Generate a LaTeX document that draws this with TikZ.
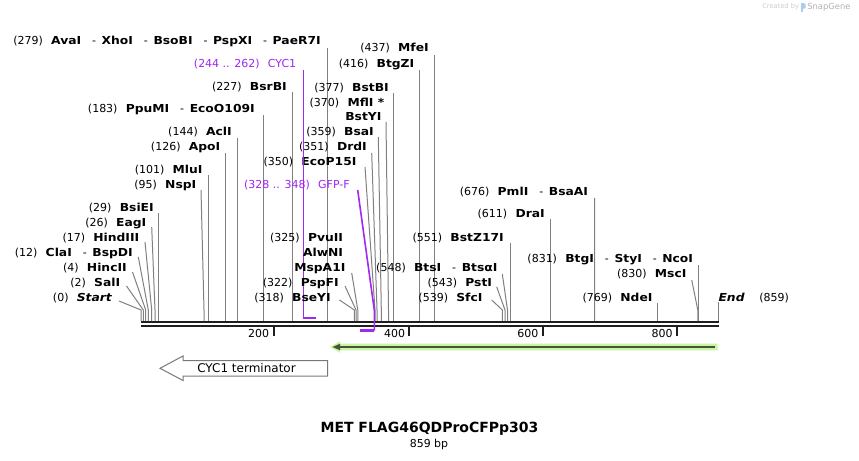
\documentclass[tikz,border=0pt]{standalone}
\usepackage{fontspec}
\setmainfont{DejaVu Sans}[BoldFeatures={FakeStretch=1.12},BoldItalicFeatures={FakeStretch=1.12}]
\newfontface\titlebf{DejaVu Sans Bold}
\usetikzlibrary{calc}
\definecolor{cutgray}{RGB}{128,128,128}
\definecolor{featpurple}{RGB}{160,40,240}
\definecolor{bbone}{RGB}{30,30,30}
\definecolor{glowgreen}{RGB}{200,245,160}
\definecolor{darkolive}{RGB}{72,82,62}
\definecolor{boxgray}{RGB}{120,120,120}
\definecolor{logoblue}{RGB}{170,205,235}
\newcommand\lp[1]{(#1)\hspace{6.2pt}}
\newcommand\en[1]{\textbf{#1}}
\newcommand\dashsep{\hspace{8.2pt}-\hspace{4.2pt}}
\begin{document}
\begin{tikzpicture}[x=0.75pt,y=-0.75pt,
  lab/.style={font=\fontsize{8.25}{10}\selectfont, inner sep=0pt, anchor=east, text height=6pt, text depth=0pt},
  featlab/.style={lab, text=featpurple},
  cut/.style={draw=cutgray, line width=0.75pt},
  feat/.style={draw=featpurple, line width=1.2pt},
  featmark/.style={draw=featpurple, line width=1.8pt},
  tick/.style={draw=bbone, line width=1.5pt},
  ticklab/.style={font=\fontsize{8.25}{10}\selectfont, inner sep=0pt, anchor=east, text height=6pt, text depth=0pt},
]
\useasboundingbox (0,0) rectangle (859,460);
\fill[white] (0,0) rectangle (859,460);

% ---------- backbone ----------
\coordinate (bbL) at (141,322);
\coordinate (bbR) at (718.5,322);
\coordinate (bbL2) at (141,326);
\coordinate (bbR2) at (718.5,326);
\draw[bbone, line width=1.7pt] (bbL) -- (bbR);
\draw[bbone, line width=1.7pt] (bbL2) -- (bbR2);

% ticks
\coordinate (t200a) at (273.5,327); \coordinate (t200b) at (273.5,336);
\coordinate (t400a) at (409.3,327); \coordinate (t400b) at (409.3,336);
\coordinate (t600a) at (542.7,327); \coordinate (t600b) at (542.7,336);
\coordinate (t800a) at (677,327);   \coordinate (t800b) at (677,336);
\draw[tick] (t200a) -- (t200b);
\draw[tick] (t400a) -- (t400b);
\draw[tick] (t600a) -- (t600b);
\draw[tick] (t800a) -- (t800b);
\node[ticklab] (n200) at (269.5,333) {200};
\node[ticklab] (n400) at (405.3,333) {400};
\node[ticklab] (n600) at (538.7,333) {600};
\node[ticklab] (n800) at (673,333) {800};

% ---------- top labels with vertical lines ----------
\node[lab] (lAva) at (321,41) {\lp{279}\en{AvaI}\dashsep\en{XhoI}\dashsep\en{BsoBI}\dashsep\en{PspXI}\dashsep\en{PaeR7I}};
\coordinate (sAva) at (327.5,321);
\draw[cut] ($(lAva.east)+(6.5,7)$) -- (sAva);

\node[lab] (lMfe) at (429,48) {\lp{437}\en{MfeI}};
\coordinate (sMfe) at (434,321);
\draw[cut] ($(lMfe.east)+(5,7)$) -- (sMfe);

\node[lab] (lBtgZ) at (414.5,64) {\lp{416}\en{BtgZI}};
\coordinate (sBtgZ) at (419.5,321);
\draw[cut] ($(lBtgZ.east)+(5,6)$) -- (sBtgZ);

\node[lab] (lBsrB) at (287,86) {\lp{227}\en{BsrBI}};
\coordinate (sBsrB) at (292.5,321);
\draw[cut] ($(lBsrB.east)+(5.5,6)$) -- (sBsrB);

\node[lab] (lBstB) at (389,87) {\lp{377}\en{BstBI}};
\coordinate (sBstB) at (393.5,321);
\draw[cut] ($(lBstB.east)+(4.5,6)$) -- (sBstB);

\node[lab] (lMfl) at (384.5,102) {\lp{370}\en{MflI *}};
\node[lab] (lBstY) at (381.7,116) {\en{BstYI}};
\coordinate (kBstY) at (388.5,310);
\coordinate (sBstY) at (388.5,321);
\draw[cut] ($(lBstY.east)+(4.3,6)$) -- (kBstY) -- (sBstY);

\node[lab] (lPpu) at (255,108) {\lp{183}\en{PpuMI}\dashsep\en{EcoO109I}};
\coordinate (sPpu) at (263.3,321);
\draw[cut] ($(lPpu.east)+(8.3,7)$) -- (sPpu);

\node[lab] (lBsa) at (374,131) {\lp{359}\en{BsaI}};
\coordinate (kBsa) at (381.3,310);
\coordinate (sBsa) at (381.3,321);
\draw[cut] ($(lBsa.east)+(4.3,6)$) -- (kBsa) -- (sBsa);

\node[lab] (lAcl) at (232,131) {\lp{144}\en{AclI}};
\coordinate (sAcl) at (237.3,321);
\draw[cut] ($(lAcl.east)+(5.3,7)$) -- (sAcl);

\node[lab] (lDrd) at (367,146) {\lp{351}\en{DrdI}};
\coordinate (kDrd) at (377,310);
\coordinate (sDrd) at (377,321);
\draw[cut] ($(lDrd.east)+(4.7,7)$) -- (kDrd) -- (sDrd);

\node[lab] (lApo) at (220.5,146) {\lp{126}\en{ApoI}};
\coordinate (sApo) at (225.7,321);
\draw[cut] ($(lApo.east)+(5.2,7)$) -- (sApo);

\node[lab] (lEco) at (356.7,161) {\lp{350}\en{EcoP15I}};
\coordinate (kEco) at (375,310);
\coordinate (sEco) at (375,321);
\draw[cut] ($(lEco.east)+(8.3,6)$) -- (kEco) -- (sEco);

\node[lab] (lMlu) at (202.7,169) {\lp{101}\en{MluI}};
\coordinate (sMlu) at (208.3,321);
\draw[cut] ($(lMlu.east)+(5.6,6)$) -- (sMlu);

\node[lab] (lNsp) at (196.5,184) {\lp{95}\en{NspI}};
\coordinate (kNsp) at (204,310);
\coordinate (sNsp) at (204,321);
\draw[cut] ($(lNsp.east)+(4.5,6)$) -- (kNsp) -- (sNsp);

\node[lab] (lPml) at (588.3,191) {\lp{676}\en{PmlI}\dashsep\en{BsaAI}};
\coordinate (sPml) at (594.5,321);
\draw[cut] ($(lPml.east)+(6.2,7)$) -- (sPml);

\node[lab] (lDra) at (545,213) {\lp{611}\en{DraI}};
\coordinate (sDra) at (550.5,321);
\draw[cut] ($(lDra.east)+(5.5,6)$) -- (sDra);

% ---------- features (purple) ----------
\node[featlab] (lCYC) at (296.5,64) {(244 .. 262)\hspace{6.2pt}CYC1};
\coordinate (kCYC) at (303.3,318);
\coordinate (eCYC) at (316,318);
\draw[feat] ($(lCYC.east)+(6.8,6)$) -- (kCYC);
\draw[featmark] (kCYC) -- (eCYC);

% ---------- left cluster ----------
\node[lab] (lBsiE) at (154,207) {\lp{29}\en{BsiEI}};
\coordinate (sBsiE) at (158.3,321);
\draw[cut] ($(lBsiE.east)+(4.3,6)$) -- (sBsiE);

\node[lab] (lEag) at (146.5,222) {\lp{26}\en{EagI}};
\coordinate (kEag) at (155,310); \coordinate (sEag) at (155,321);
\draw[cut] ($(lEag.east)+(5.2,5)$) -- (kEag) -- (sEag);

\node[lab] (lHind) at (139.5,237) {\lp{17}\en{HindIII}};
\coordinate (kHind) at (151.7,310); \coordinate (sHind) at (151.7,321);
\draw[cut] ($(lHind.east)+(5.5,5)$) -- (kHind) -- (sHind);

\node[lab] (lCla) at (133,252) {\lp{12}\en{ClaI}\dashsep\en{BspDI}};
\coordinate (kCla) at (148.3,310); \coordinate (sCla) at (148.3,321);
\draw[cut] ($(lCla.east)+(5.3,5)$) -- (kCla) -- (sCla);

\node[lab] (lHinc) at (127,267) {\lp{4}\en{HincII}};
\coordinate (kHinc) at (145.7,310); \coordinate (sHinc) at (145.7,321);
\draw[cut] ($(lHinc.east)+(5.5,5)$) -- (kHinc) -- (sHinc);

\node[lab] (lSal) at (120.5,282) {\lp{2}\en{SalI}};
\coordinate (kSal) at (143.3,310); \coordinate (sSal) at (143.3,321);
\draw[cut] ($(lSal.east)+(6,4)$) -- (kSal) -- (sSal);

\node[lab] (lStart) at (112.5,297) {\lp{0}\textbf{\textit{Start}}};
\coordinate (kStart) at (141,310); \coordinate (sStart) at (141,321);
\draw[cut] ($(lStart.east)+(6.5,4)$) -- (kStart) -- (sStart);

% ---------- 318-325 cluster ----------
\node[lab] (lPvu) at (343.3,237) {\lp{325}\en{PvuII}};
\node[lab] (lAlw) at (343.3,252) {\en{AlwNI}};
\node[lab] (lMsp) at (345.7,267) {\en{MspA1I}};
\coordinate (kMsp) at (357.8,310); \coordinate (sMsp) at (357.8,321);
\draw[cut] ($(lMsp.east)+(6,6)$) -- (kMsp) -- (sMsp);

\node[lab] (lPspF) at (339,282) {\lp{322}\en{PspFI}};
\coordinate (kPspF) at (356,310); \coordinate (sPspF) at (356,321);
\draw[cut] ($(lPspF.east)+(6,4)$) -- (kPspF) -- (sPspF);

\node[lab] (lBseY) at (331,297) {\lp{318}\en{BseYI}};
\coordinate (kBseY) at (354.3,310); \coordinate (sBseY) at (354.3,321);
\draw[cut] ($(lBseY.east)+(8.5,3)$) -- (kBseY) -- (sBseY);

% ---------- 539-551 cluster ----------
\node[lab] (lBstZ) at (504,237) {\lp{551}\en{BstZ17I}};
\coordinate (sBstZ) at (510,321);
\draw[cut] ($(lBstZ.east)+(6,6)$) -- (sBstZ);

\node[lab] (lBts) at (497.7,267) {\lp{548}\en{BtsI}\dashsep\en{BtsαI}};
\coordinate (kBts) at (507.5,310); \coordinate (sBts) at (507.5,321);
\draw[cut] ($(lBts.east)+(4.6,7)$) -- (kBts) -- (sBts);

\node[lab] (lPst) at (492.3,282) {\lp{543}\en{PstI}};
\coordinate (kPst) at (505,310); \coordinate (sPst) at (505,321);
\draw[cut] ($(lPst.east)+(4.4,5)$) -- (kPst) -- (sPst);

\node[lab] (lSfc) at (482.7,297) {\lp{539}\en{SfcI}};
\coordinate (kSfc) at (502.3,310); \coordinate (sSfc) at (502.3,321);
\draw[cut] ($(lSfc.east)+(9,3)$) -- (kSfc) -- (sSfc);

% ---------- right side ----------
\node[lab] (lBtg) at (693.3,258) {\lp{831}\en{BtgI}\dashsep\en{StyI}\dashsep\en{NcoI}};
\coordinate (sNco) at (698.3,321);
\draw[cut] ($(lBtg.east)+(5,7)$) -- (sNco);

\node[lab] (lMsc) at (686.7,273) {\lp{830}\en{MscI}};
\coordinate (kMsc) at (697.8,310); \coordinate (sMsc) at (697.8,321);
\draw[cut] ($(lMsc.east)+(5,7)$) -- (kMsc) -- (sMsc);

\node[lab] (lNde) at (652.7,297) {\lp{769}\en{NdeI}};
\coordinate (sNde) at (657.3,321);
\draw[cut] ($(lNde.east)+(4.6,6)$) -- (sNde);

\node[lab, anchor=west] (lEnd) at (718.3,297) {\textbf{\textit{End}}\hspace{11pt}(859)};
\coordinate (sEnd) at (718.3,321);
\draw[cut] ($(lEnd.west)+(0,5)$) -- (sEnd);

% ---------- GFP-F (purple, drawn over backbone) ----------
\node[featlab] (lGFP) at (350,184) {(328 .. 348)\hspace{6.2pt}GFP-F};
\coordinate (kGFP) at (374.3,310);
\coordinate (bGFP) at (374.3,330.5);
\coordinate (eGFP) at (360,330.5);
\draw[feat] ($(lGFP.east)+(7.7,6)$) -- (kGFP) -- (bGFP);
\draw[featmark] (bGFP) -- (eGFP);

% ---------- green feature arrow ----------
\fill[glowgreen] (330,347) -- (340,341.3) -- (340,343.7) -- (717.5,343.7) -- (717.5,350.3) -- (340,350.3) -- (340,352.7) -- cycle;
\draw[darkolive, line width=1.4pt] (339,347) -- (715,347);
\fill[darkolive] (332.5,347) -- (340,343.8) -- (340,350.2) -- cycle;

% ---------- CYC1 terminator ----------
\draw[boxgray, fill=white, line width=0.75pt] (160,368.3) -- (183,356) -- (183,360.7) -- (327.5,360.7) -- (327.5,376) -- (183,376) -- (183,380.5) -- cycle;
\node[font=\fontsize{9}{11}\selectfont, inner sep=0pt] (lTerm) at (246.5,368.3) {CYC1 terminator};

% ---------- title ----------
\node[font=\fontsize{10.5}{12}\selectfont\titlebf, inner sep=0pt] (title) at (429.5,429) {MET FLAG46QDProCFPp303};
\node[font=\fontsize{8.2}{10}\selectfont, inner sep=0pt] (sub) at (429,444) {859 bp};

% ---------- watermark ----------
\node[font=\fontsize{5}{6}\selectfont, text=gray!40, inner sep=0pt, anchor=west] (wm1) at (762,7) {Created by};
\fill[logoblue] (801,3) rectangle (803,12);
\fill[logoblue] (803,3) -- (805.5,4) -- (805.5,8) -- (803,9) -- cycle;
\node[font=\fontsize{6.3}{7}\selectfont, text=gray!60, inner sep=0pt, anchor=west] (wm2) at (807,7) {SnapGene};
\end{tikzpicture}
\end{document}
